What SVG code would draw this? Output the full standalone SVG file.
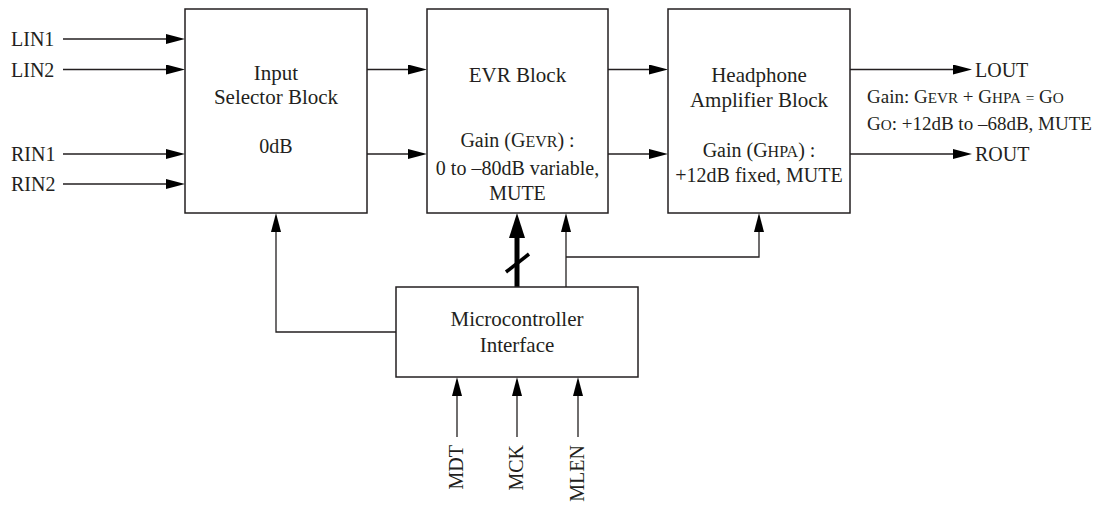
<svg xmlns="http://www.w3.org/2000/svg" width="1103" height="505" viewBox="0 0 1103 505">
<defs>
<style>
text{font-family:"Liberation Serif","Times New Roman",serif;fill:#231f20;}
.t{font-size:21px;text-anchor:middle;}
.s{font-size:20px;text-anchor:middle;}
.p{font-size:20px;}
.r{font-size:19px;}
.sc{font-size:0.8em;}
.box{fill:#fff;stroke:#231f20;stroke-width:1.5;}
.w{fill:none;stroke:#231f20;stroke-width:1.3;}
.wa{fill:none;stroke:#231f20;stroke-width:1.3;marker-end:url(#ah);}
</style>
<marker id="ah" markerUnits="userSpaceOnUse" markerWidth="20" markerHeight="10" refX="2" refY="5" orient="auto" viewBox="0 0 20 10">
<path d="M0,0 L19,5 L0,10 z" fill="#000"/>
</marker>
<marker id="ahb" markerUnits="userSpaceOnUse" markerWidth="26" markerHeight="16" refX="3" refY="8" orient="auto" viewBox="0 0 26 16">
<path d="M0,0 L25,8 L0,16 z" fill="#000"/>
</marker>
</defs>
<rect width="1103" height="505" fill="#fff"/>

<g id="connectors">
<line class="wa" x1="63" y1="39" x2="168" y2="39"/>
<line class="wa" x1="63" y1="69.5" x2="168" y2="69.5"/>
<line class="wa" x1="63" y1="154" x2="168" y2="154"/>
<line class="wa" x1="63" y1="184" x2="168" y2="184"/>
<line class="wa" x1="367" y1="69.5" x2="410" y2="69.5"/>
<line class="wa" x1="367" y1="154" x2="410" y2="154"/>
<line class="wa" x1="608" y1="69.5" x2="651" y2="69.5"/>
<line class="wa" x1="608" y1="154" x2="651" y2="154"/>
<line class="wa" x1="850" y1="69.5" x2="955" y2="69.5"/>
<line class="wa" x1="850" y1="154" x2="955" y2="154"/>
<path class="wa" d="M396,332 H276 V230"/>
<path d="M517,287 V235" fill="none" stroke="#000" stroke-width="5" marker-end="url(#ahb)"/>
<line x1="506" y1="272" x2="529" y2="254" stroke="#000" stroke-width="3.5"/>
<path class="wa" d="M566,287 V230"/>
<path class="wa" d="M566,257 H759 V230"/>
<line class="wa" x1="457" y1="437" x2="457" y2="394"/>
<line class="wa" x1="517" y1="437" x2="517" y2="394"/>
<line class="wa" x1="578" y1="437" x2="578" y2="394"/>
</g>

<g id="labels">
<text class="p" x="11" y="46">LIN1</text>
<text class="p" x="11" y="76.5">LIN2</text>
<text class="p" x="11" y="160.5">RIN1</text>
<text class="p" x="11" y="190.5">RIN2</text>
<text class="p" x="975" y="77">LOUT</text>
<text class="p" x="975" y="161">ROUT</text>
<text class="r" x="867" y="103">Gain: G<tspan class="sc">EVR</tspan> + G<tspan class="sc">HPA</tspan> <tspan class="sc">=</tspan> G<tspan class="sc">O</tspan></text>
<text class="r" x="867" y="130">G<tspan class="sc">O</tspan>: +12dB to –68dB, MUTE</text>
<text class="p" transform="translate(462.5,445) rotate(-90)" text-anchor="end">MDT</text>
<text class="p" transform="translate(523,445) rotate(-90)" text-anchor="end">MCK</text>
<text class="p" transform="translate(584,445) rotate(-90)" text-anchor="end">MLEN</text>
</g>

<g id="input-selector">
<rect class="box" x="185" y="9" width="182" height="204"/>
<text class="t" x="276" y="80">Input</text>
<text class="t" x="276" y="104">Selector Block</text>
<text class="s" x="276" y="153">0dB</text>
</g>

<g id="evr">
<rect class="box" x="427" y="9" width="181" height="204"/>
<text class="t" x="517.5" y="82">EVR Block</text>
<text class="s" x="517.5" y="147">Gain (G<tspan class="sc">EVR</tspan>) :</text>
<text class="s" x="517.5" y="175">0 to –80dB variable,</text>
<text class="s" x="517.5" y="200">MUTE</text>
</g>

<g id="hpa">
<rect class="box" x="668" y="9" width="182" height="204"/>
<text class="t" x="759" y="82">Headphone</text>
<text class="t" x="759" y="107">Amplifier Block</text>
<text class="s" x="759" y="157">Gain (G<tspan class="sc">HPA</tspan>) :</text>
<text class="s" x="759" y="182">+12dB fixed, MUTE</text>
</g>

<g id="micro">
<rect class="box" x="396" y="287" width="242" height="90"/>
<text class="t" x="517" y="326">Microcontroller</text>
<text class="t" x="517" y="352">Interface</text>
</g>
</svg>
